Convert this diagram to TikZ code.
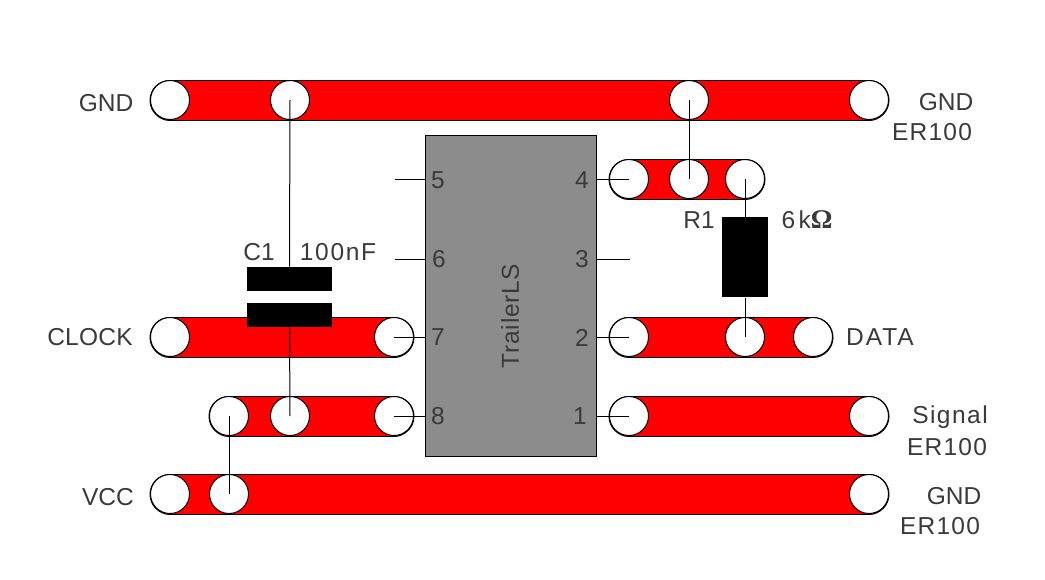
\documentclass[tikz,border=0pt]{standalone}
\usepackage{fontspec}
\setmainfont{Liberation Sans}
\newfontfamily\omegafont{Liberation Serif}
\usetikzlibrary{backgrounds}
\definecolor{tracered}{HTML}{FF0000}
\definecolor{chipgrey}{HTML}{8C8C8C}
\definecolor{labelgrey}{HTML}{3A3A3A}

\begin{document}
\begin{tikzpicture}[x=1pt, y=-1pt, line width=1pt,
    font=\fontsize{24.5}{26}\selectfont,
    pad/.style={circle, draw=black, fill=white, minimum size=39pt, inner sep=0pt},
    trace/.style={draw=black, double=tracered, line width=1pt, double distance=39pt, line cap=round},
    part/.style={rectangle, draw=none, fill=black, inner sep=0pt},
    lbl/.style={text=labelgrey, inner sep=0pt, font=\fontsize{24.5}{26}\selectfont\addfontfeature{LetterSpace=#1}},
    lbl/.default=0]

    \useasboundingbox (0,0) rectangle (1045,579);

    % chip
    \node (chip) [rectangle, draw=black, fill=chipgrey, minimum width=171pt, minimum height=321pt, inner sep=0pt]
      at (510.5,295.5) {};
    \node (chipname) [lbl=3, rotate=90] at (510,316) {TrailerLS};

    % pads
    \foreach \name/\xp/\yp in {gnda/170/100, gndb/290/100, gndc/689/100, gndd/869/100,
        foura/629/179, fourb/689/179, fourc/745/179,
        twoa/629/337, twob/745/337, twoc/813/337,
        onea/629/416, oneb/869/416,
        clka/170/337, clkb/394/337,
        eighta/229/416, eightb/290/416, eightc/394/416,
        vcca/170/494, vccb/229/494, vccc/869/494}
      \node (\name) [pad] at (\xp,\yp) {};

    % traces
    \begin{scope}[on background layer]
      \draw [trace] (gnda.center) -- (gndd.center);
      \draw [trace] (foura.center) -- (fourc.center);
      \draw [trace] (twoa.center) -- (twoc.center);
      \draw [trace] (onea.center) -- (oneb.center);
      \draw [trace] (clka.center) -- (clkb.center);
      \draw [trace] (eighta.center) -- (eightc.center);
      \draw [trace] (vcca.center) -- (vccc.center);
    \end{scope}

    % parts
    \node (capa) [part, minimum width=85pt, minimum height=24pt] at (289.5,279) {};
    \node (capb) [part, minimum width=85pt, minimum height=24pt] at (289.5,315) {};
    \node (res) [part, minimum width=46pt, minimum height=80pt] at (745,257) {};

    % wires
    \draw (gndb.center) -- (capa.north);
    \draw (capb.south) -- (eightb.center);
    \draw (eighta.center) -- (vccb.center);
    \draw (gndc.center) -- (fourb.center);
    \draw (fourc.center) -- (res.north);
    \draw (res.south) -- (twob.center);

    % pins
    \coordinate (stubfive) at (395,179);
    \coordinate (stubsix) at (395,259);
    \coordinate (stubthree) at (630,259);
    \draw (stubfive) -- (stubfive -| chip.west);
    \draw (stubsix) -- (stubsix -| chip.west);
    \draw (clkb.center) -- (clkb.center -| chip.west);
    \draw (eightc.center) -- (eightc.center -| chip.west);
    \draw (foura.center) -- (foura.center -| chip.east);
    \draw (stubthree) -- (stubthree -| chip.east);
    \draw (twoa.center) -- (twoa.center -| chip.east);
    \draw (onea.center) -- (onea.center -| chip.east);

    \foreach \name/\xp/\yp/\txt in {pfive/438/180/5, psix/439/259/6, pseven/438/337/7, peight/438/416/8,
        pfour/582/180/4, pthree/582/259/3, ptwo/582/338/2, pone/580/416/1}
      \node (\name) [lbl] at (\xp,\yp) {\txt};

    % labels
    \foreach \name/\xp/\yp/\sp/\txt in {lgnd/106/103/0/GND, lclock/90/337/1/CLOCK, lvcc/108/497/0/VCC,
        lgndr/946/102/0/GND, lera/932/132/5/ER100, ldata/880/337/8/DATA,
        lsignal/950/417/6/Signal, lerb/947/447/5/ER100, lgnds/954/496/0/GND, lerc/940/526/5/ER100,
        lcap/259/252/0/C1, lcapv/338/252/7/100nF, lres/699/220/0/R1}
      \node (\name) [lbl=\sp] at (\xp,\yp) {\txt};
    \node (lresv) [lbl=14] at (807,220) {6k{\omegafont\fontsize{27}{27}\selectfont\bfseries Ω}};
\end{tikzpicture}
\end{document}
